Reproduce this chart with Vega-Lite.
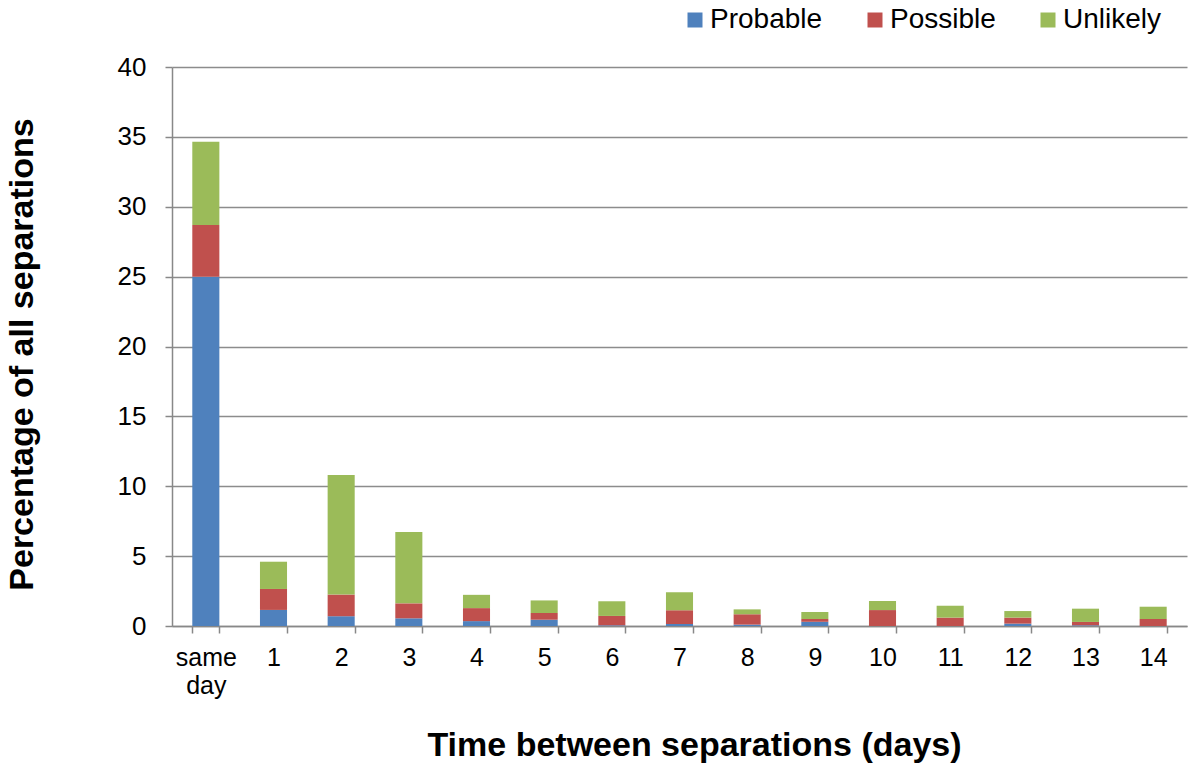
{
  "$schema": "https://vega.github.io/schema/vega-lite/v6.json",
  "width": 1015,
  "height": 559,
  "autosize": {"type": "none"},
  "padding": {"left": 172, "top": 67, "right": 13, "bottom": 141},
  "background": "white",
  "config": {
    "font": "Liberation Sans",
    "view": {"stroke": null}
  },
  "data": {
    "values": [
      {"day": "same day", "type": "Probable", "ord": 1, "value": 25.0},
      {"day": "same day", "type": "Possible", "ord": 2, "value": 3.7},
      {"day": "same day", "type": "Unlikely", "ord": 3, "value": 5.95},
      {"day": "1", "type": "Probable", "ord": 1, "value": 1.15},
      {"day": "1", "type": "Possible", "ord": 2, "value": 1.5},
      {"day": "1", "type": "Unlikely", "ord": 3, "value": 1.95},
      {"day": "2", "type": "Probable", "ord": 1, "value": 0.7},
      {"day": "2", "type": "Possible", "ord": 2, "value": 1.55},
      {"day": "2", "type": "Unlikely", "ord": 3, "value": 8.55},
      {"day": "3", "type": "Probable", "ord": 1, "value": 0.55},
      {"day": "3", "type": "Possible", "ord": 2, "value": 1.07},
      {"day": "3", "type": "Unlikely", "ord": 3, "value": 5.1},
      {"day": "4", "type": "Probable", "ord": 1, "value": 0.35},
      {"day": "4", "type": "Possible", "ord": 2, "value": 0.93},
      {"day": "4", "type": "Unlikely", "ord": 3, "value": 0.95},
      {"day": "5", "type": "Probable", "ord": 1, "value": 0.45},
      {"day": "5", "type": "Possible", "ord": 2, "value": 0.48},
      {"day": "5", "type": "Unlikely", "ord": 3, "value": 0.9},
      {"day": "6", "type": "Probable", "ord": 1, "value": 0.05},
      {"day": "6", "type": "Possible", "ord": 2, "value": 0.67},
      {"day": "6", "type": "Unlikely", "ord": 3, "value": 1.05},
      {"day": "7", "type": "Probable", "ord": 1, "value": 0.15},
      {"day": "7", "type": "Possible", "ord": 2, "value": 0.97},
      {"day": "7", "type": "Unlikely", "ord": 3, "value": 1.29},
      {"day": "8", "type": "Probable", "ord": 1, "value": 0.1},
      {"day": "8", "type": "Possible", "ord": 2, "value": 0.74},
      {"day": "8", "type": "Unlikely", "ord": 3, "value": 0.35},
      {"day": "9", "type": "Probable", "ord": 1, "value": 0.3},
      {"day": "9", "type": "Possible", "ord": 2, "value": 0.2},
      {"day": "9", "type": "Unlikely", "ord": 3, "value": 0.5},
      {"day": "10", "type": "Probable", "ord": 1, "value": 0.0},
      {"day": "10", "type": "Possible", "ord": 2, "value": 1.14},
      {"day": "10", "type": "Unlikely", "ord": 3, "value": 0.65},
      {"day": "11", "type": "Probable", "ord": 1, "value": 0.0},
      {"day": "11", "type": "Possible", "ord": 2, "value": 0.6},
      {"day": "11", "type": "Unlikely", "ord": 3, "value": 0.85},
      {"day": "12", "type": "Probable", "ord": 1, "value": 0.17},
      {"day": "12", "type": "Possible", "ord": 2, "value": 0.43},
      {"day": "12", "type": "Unlikely", "ord": 3, "value": 0.47},
      {"day": "13", "type": "Probable", "ord": 1, "value": 0.05},
      {"day": "13", "type": "Possible", "ord": 2, "value": 0.24},
      {"day": "13", "type": "Unlikely", "ord": 3, "value": 0.95},
      {"day": "14", "type": "Probable", "ord": 1, "value": 0.0},
      {"day": "14", "type": "Possible", "ord": 2, "value": 0.5},
      {"day": "14", "type": "Unlikely", "ord": 3, "value": 0.88}
    ]
  },
  "mark": {"type": "bar"},
  "encoding": {
    "x": {
      "field": "day",
      "type": "nominal",
      "sort": null,
      "scale": {"paddingInner": 0.6, "paddingOuter": 0.3},
      "axis": {
        "title": "Time between separations (days)",
        "titleFontSize": 34,
        "titleFontWeight": "bold",
        "titleColor": "#000000",
        "titleX": 522,
        "titleY": 119,
        "titleBaseline": "middle",
        "labelAngle": 0,
        "labelFontSize": 25,
        "labelColor": "#000000",
        "labelLineHeight": 28,
        "labelBaseline": "top",
        "labelPadding": 12,
        "labelExpr": "datum.label == 'same day' ? ['same', 'day'] : datum.label",
        "tickBand": "extent",
        "tickSize": 7,
        "tickColor": "#888888",
        "tickWidth": 1.5,
        "domainColor": "#888888",
        "domainWidth": 1.5,
        "grid": false
      }
    },
    "y": {
      "field": "value",
      "type": "quantitative",
      "aggregate": "sum",
      "stack": "zero",
      "scale": {"domain": [0, 40], "nice": false},
      "axis": {
        "title": "Percentage of all separations",
        "titleFontSize": 34,
        "titleFontWeight": "bold",
        "titleColor": "#000000",
        "titleAngle": -90,
        "titleX": -150,
        "titleY": 287,
        "titleAlign": "center",
        "titleBaseline": "middle",
        "values": [0, 5, 10, 15, 20, 25, 30, 35, 40],
        "labelFontSize": 26,
        "labelColor": "#000000",
        "labelPadding": 19,
        "tickSize": 7,
        "tickColor": "#888888",
        "tickWidth": 1.5,
        "domainColor": "#888888",
        "domainWidth": 1.5,
        "grid": true,
        "gridColor": "#8c8c8c",
        "gridWidth": 1.5
      }
    },
    "color": {
      "field": "type",
      "type": "nominal",
      "sort": ["Probable", "Possible", "Unlikely"],
      "scale": {"domain": ["Probable", "Possible", "Unlikely"], "range": ["#4F81BD", "#C0504D", "#9BBB59"]},
      "legend": {
        "title": null,
        "orient": "none",
        "direction": "horizontal",
        "legendX": 509,
        "legendY": -61,
        "symbolType": "square",
        "symbolSize": 225,
        "symbolStrokeWidth": 0,
        "labelFontSize": 28,
        "labelColor": "#000000",
        "labelOffset": 1,
        "columnPadding": 38
      }
    },
    "order": {"field": "ord", "type": "quantitative", "sort": "ascending"}
  }
}
